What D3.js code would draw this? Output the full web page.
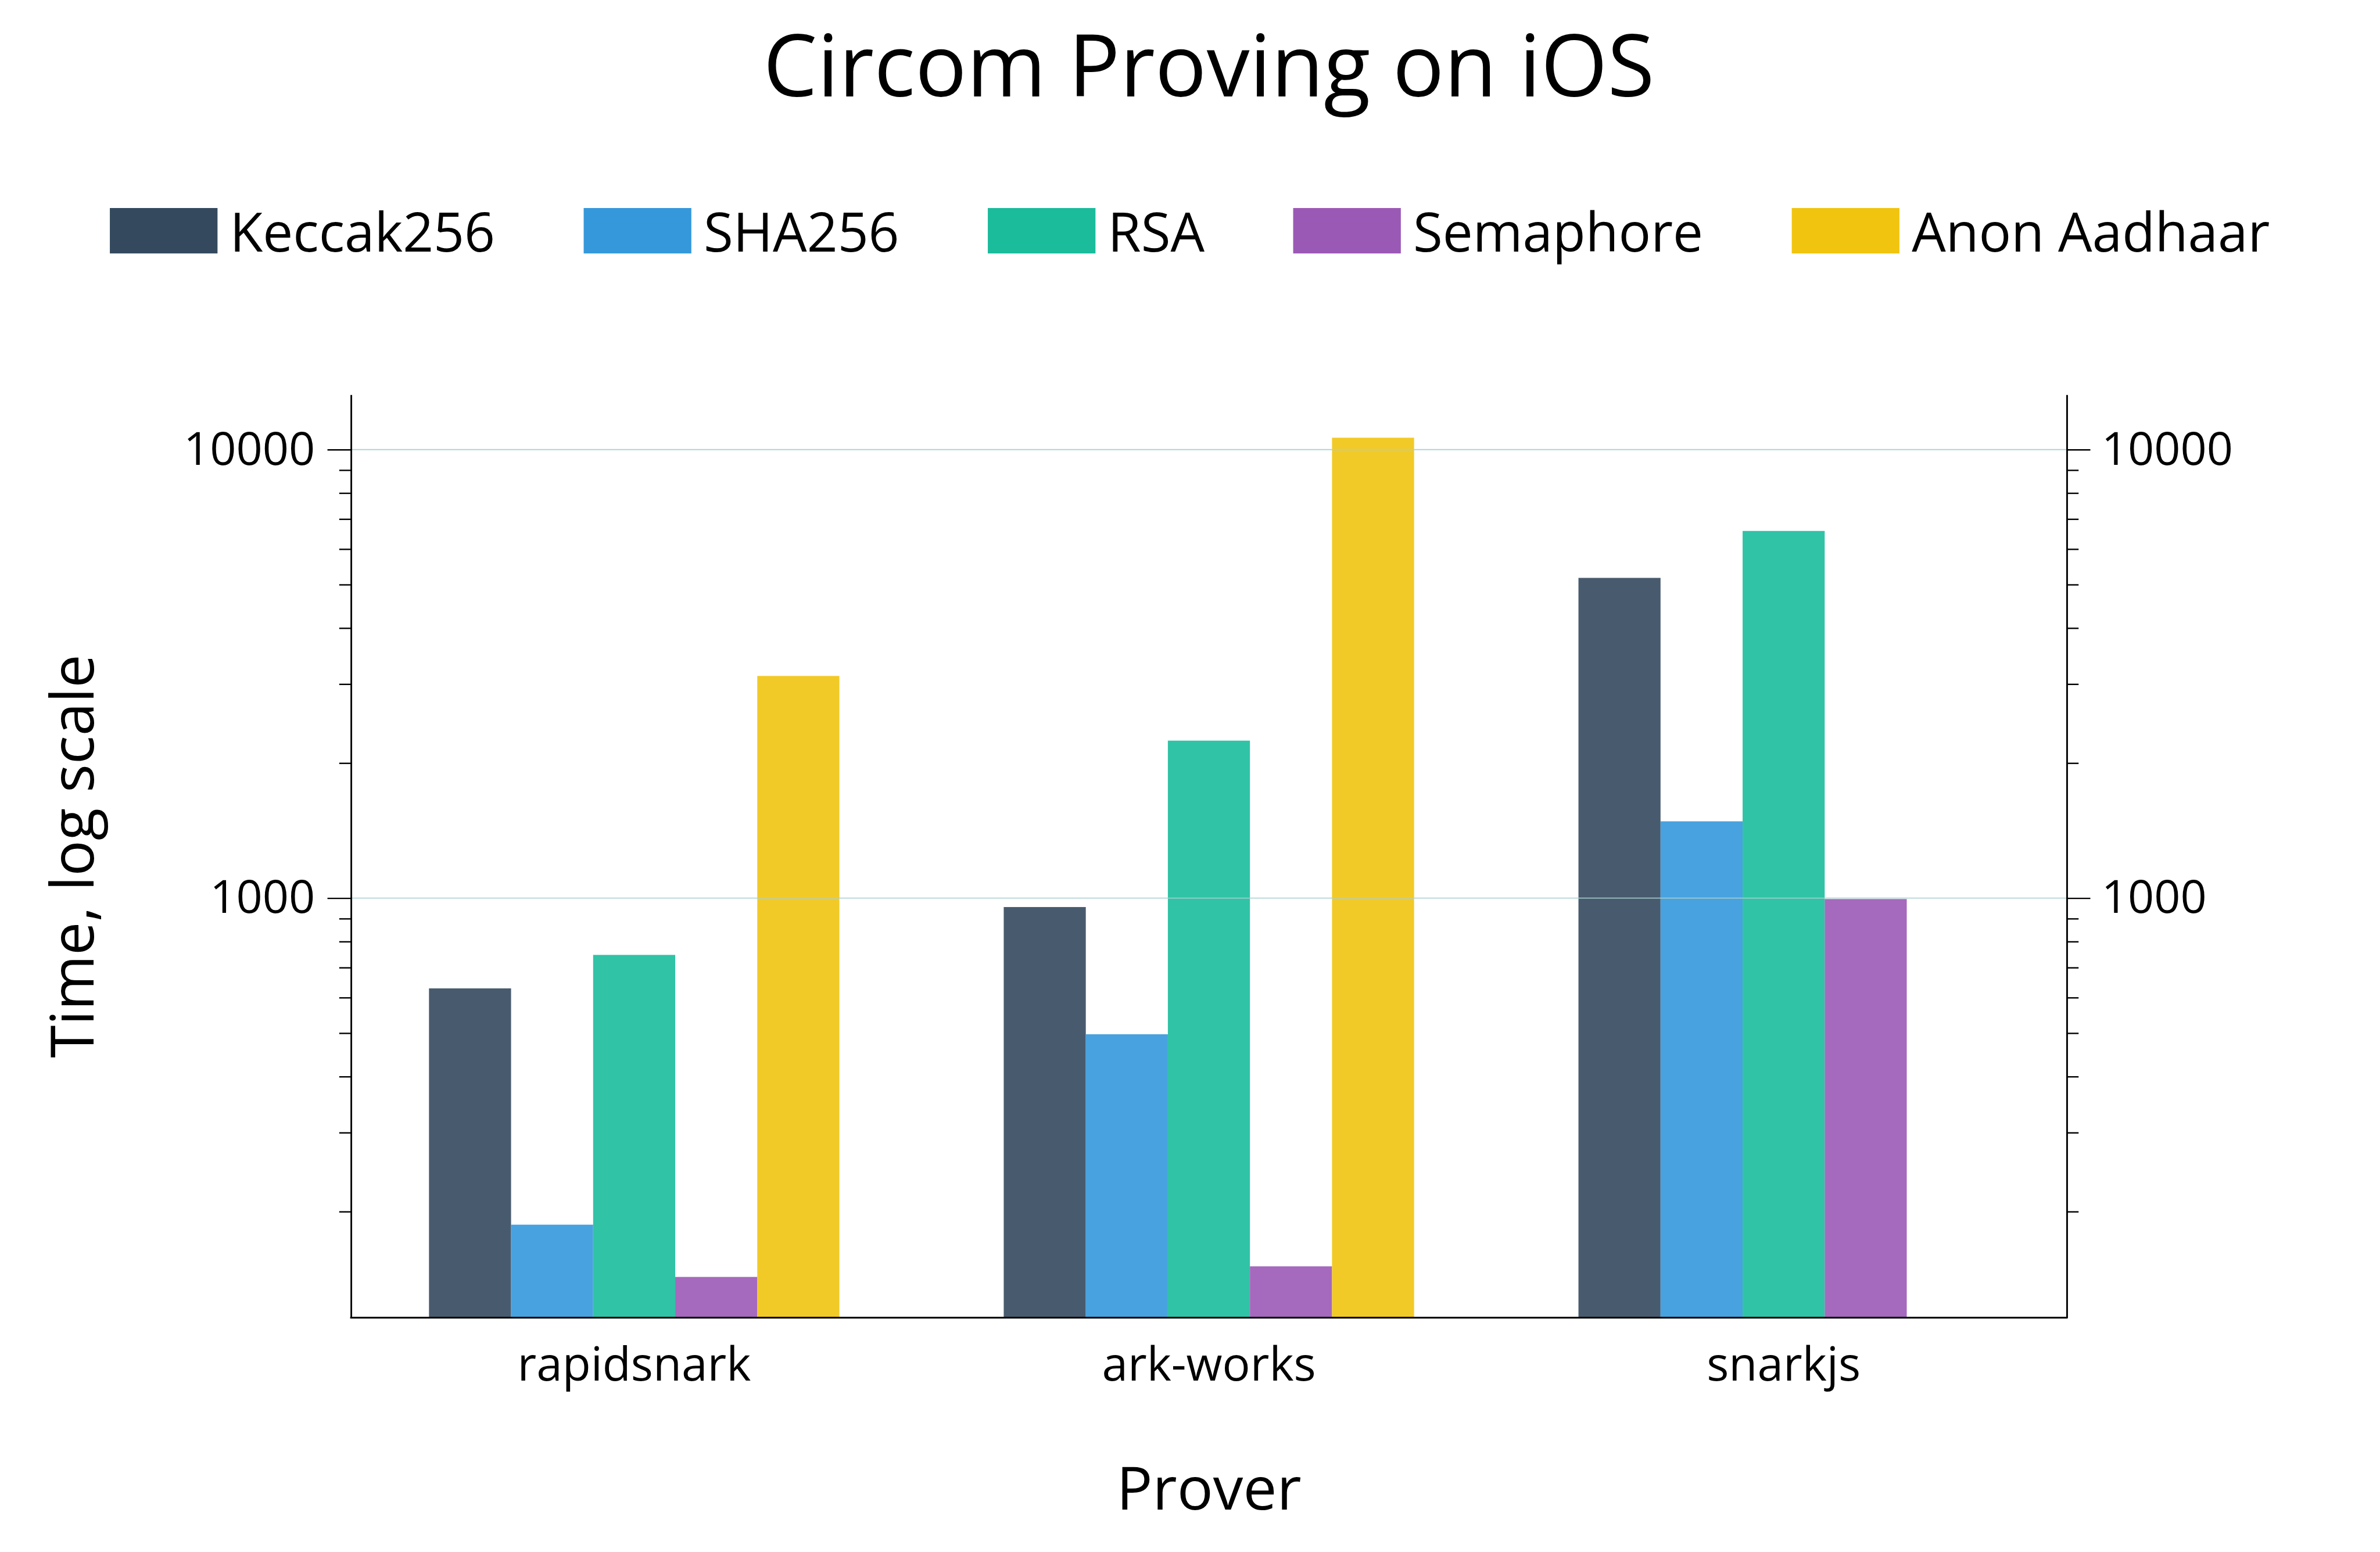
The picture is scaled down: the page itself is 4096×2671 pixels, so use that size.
<!DOCTYPE html>
<html><head><meta charset="utf-8">
<script src="https://cdn.jsdelivr.net/npm/d3@7"></script>
<style>html,body{margin:0;padding:0;background:#fff;overflow:hidden}</style>
</head><body><svg id="chart"></svg>
<script>
// ---- data ----
const chartTitle = "Circom Proving on iOS";
const provers = ["rapidsnark", "ark-works", "snarkjs"];
const circuits = ["Keccak256", "SHA256", "RSA", "Semaphore", "Anon Aadhaar"];
const keccak256 = [629, 955, 5175];
const sha256 = [187, 497, 1483];
const rsa = [747, 2244, 6585];
const semaphore = [143, 151, 995];
const anonAadhaar = [3128, 10627, null];
const colors = ["#34495e", "#3498db", "#1abc9c", "#9b59b6", "#f1c40f"];
const yMajorTicks = [1000, 10000];
const yMinorTicks = [200, 300, 400, 500, 600, 700, 800, 900, 2000, 3000, 4000, 5000, 6000, 7000, 8000, 9000];
const yTitle = "Time, log scale";
const xTitle = "Prover";

const seriesValues = [keccak256, sha256, rsa, semaphore, anonAadhaar];

// ---- layout (reference pixel units, scaled by S) ----
const S = 0.965;
const W = 4096, H = 2671;
const plot = {left: 626, right: 3686, top: 704, bottom: 2350};
const FONT = "'Open Sans', Lato, sans-serif";

const svg = d3.select("#chart").attr("width", W).attr("height", H);
svg.append("rect").attr("width", W).attr("height", H).attr("fill", "#fff");
const g = svg.append("g").attr("transform", `scale(${S})`);

const x0 = d3.scaleBand().domain(provers).range([618.5, 3693.5]).paddingInner(0.286).paddingOuter(0.143);
const x1 = d3.scaleBand().domain(circuits).range([0, x0.bandwidth()]);
const y = d3.scaleLog().domain([116, 13250]).range([plot.bottom, plot.top]);

// bars
circuits.forEach((c, i) => {
  const data = provers.map((p, j) => ({p, v: seriesValues[i][j]})).filter(d => d.v != null);
  g.append("g").selectAll("rect").data(data).join("rect")
    .attr("x", d => x0(d.p) + x1(c))
    .attr("y", d => y(d.v))
    .attr("width", x1.bandwidth())
    .attr("height", d => plot.bottom - y(d.v))
    .attr("fill", colors[i])
    .attr("fill-opacity", 0.9);
});

// grid lines (over bars)
g.append("g").selectAll("line").data(yMajorTicks).join("line")
  .attr("x1", plot.left).attr("x2", plot.right)
  .attr("y1", d => y(d)).attr("y2", d => y(d))
  .attr("stroke", "#a9cfcf").attr("stroke-width", 2).attr("stroke-opacity", 0.9);

function styleAxis(sel, fs) {
  sel.selectAll("path").attr("stroke", "#000").attr("stroke-width", 3);
  sel.selectAll("line").attr("stroke", "#000").attr("stroke-width", 2.5);
  sel.selectAll("text").attr("font-family", FONT).attr("font-size", fs || 82).attr("fill", "#000");
}

// left axis
const leftMinor = g.append("g").attr("transform", `translate(${plot.left},0)`)
  .call(d3.axisLeft(y).tickValues(yMinorTicks).tickSize(21).tickFormat(""));
leftMinor.select(".domain").remove();
styleAxis(leftMinor);
const leftAx = g.append("g").attr("transform", `translate(${plot.left},0)`)
  .call(d3.axisLeft(y).tickValues(yMajorTicks).tickSize(42).tickSizeOuter(0).tickPadding(22).tickFormat(d3.format("d")));
styleAxis(leftAx);

// right axis
const rightMinor = g.append("g").attr("transform", `translate(${plot.right},0)`)
  .call(d3.axisRight(y).tickValues(yMinorTicks).tickSize(21).tickFormat(""));
rightMinor.select(".domain").remove();
styleAxis(rightMinor);
const rightAx = g.append("g").attr("transform", `translate(${plot.right},0)`)
  .call(d3.axisRight(y).tickValues(yMajorTicks).tickSize(42).tickSizeOuter(0).tickPadding(20).tickFormat(d3.format("d")));
styleAxis(rightAx);

// bottom axis
const bottomAx = g.append("g").attr("transform", `translate(0,${plot.bottom})`)
  .call(d3.axisBottom(x0).tickSize(0).tickPadding(0));
bottomAx.select(".domain").remove();
styleAxis(bottomAx, 83);
bottomAx.selectAll("text").attr("y", 112).attr("dy", 0);
g.append("line").attr("x1", plot.left - 1.5).attr("x2", plot.right + 1.5)
  .attr("y1", plot.bottom).attr("y2", plot.bottom)
  .attr("stroke", "#000").attr("stroke-width", 3);

// title
g.append("text").attr("x", (plot.left + plot.right) / 2).attr("y", 172)
  .attr("text-anchor", "middle").attr("font-family", FONT).attr("font-size", 153)
  .attr("fill", "#000").text(chartTitle);

// axis titles
g.append("text").attr("x", (plot.left + plot.right) / 2).attr("y", 2692)
  .attr("text-anchor", "middle").attr("font-family", FONT).attr("font-size", 107)
  .attr("fill", "#000").text(xTitle);
g.append("text").attr("transform", `translate(167,${(plot.top + plot.bottom) / 2}) rotate(-90)`)
  .attr("text-anchor", "middle").attr("font-family", FONT).attr("font-size", 106)
  .attr("fill", "#000").text(yTitle);

// legend
const leg = g.append("g");
let lx = 0;
circuits.forEach((c, i) => {
  leg.append("rect").attr("x", lx).attr("y", 371).attr("width", 192).attr("height", 81).attr("fill", colors[i]);
  const t = leg.append("text").attr("x", lx + 192 + 22).attr("y", 449)
    .attr("font-family", FONT).attr("font-size", 96).attr("fill", "#000").text(c);
  lx += 192 + 22 + t.node().getComputedTextLength() + 158;
});
const legW = lx - 158;
leg.attr("transform", `translate(${2122 - legW / 2},0)`);
</script></body></html>
